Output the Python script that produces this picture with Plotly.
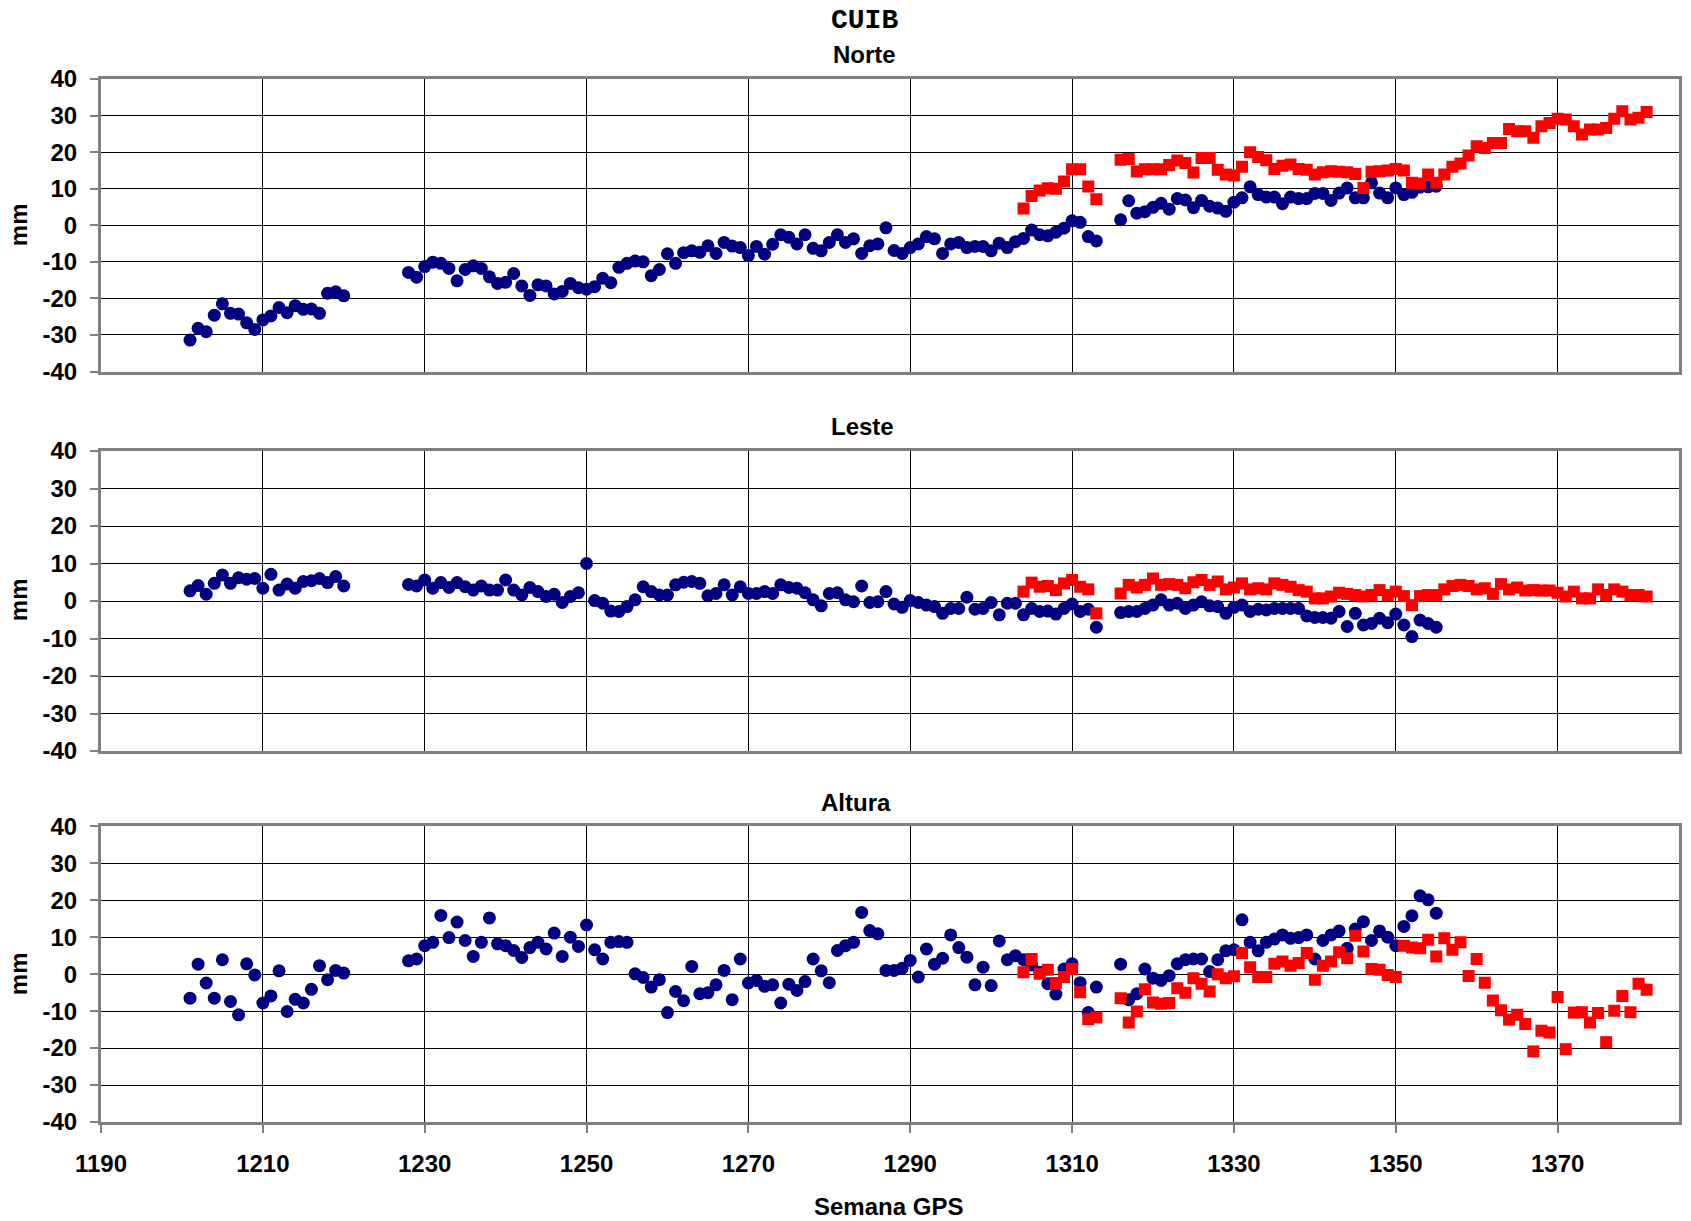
import plotly.graph_objects as go

# ---------------- data ----------------
weeks_blue = [1201, 1202, 1203, 1204, 1205, 1206, 1207, 1208, 1209, 1210,
              1211, 1212, 1213, 1214, 1215, 1216, 1217, 1218, 1219, 1220,
              1228, 1229, 1230, 1231, 1232, 1233, 1234, 1235, 1236, 1237,
              1238, 1239, 1240, 1241, 1242, 1243, 1244, 1245, 1246, 1247,
              1248, 1249, 1250, 1251, 1252, 1253, 1254, 1255, 1256, 1257,
              1258, 1259, 1260, 1261, 1262, 1263, 1264, 1265, 1266, 1267,
              1268, 1269, 1270, 1271, 1272, 1273, 1274, 1275, 1276, 1277,
              1278, 1279, 1280, 1281, 1282, 1283, 1284, 1285, 1286, 1287,
              1288, 1289, 1290, 1291, 1292, 1293, 1294, 1295, 1296, 1297,
              1298, 1299, 1300, 1301, 1302, 1303, 1304, 1305, 1306, 1307,
              1308, 1309, 1310, 1311, 1312, 1313,
              1316, 1317, 1318, 1319, 1320, 1321, 1322, 1323, 1324, 1325,
              1326, 1327, 1328, 1329, 1330, 1331, 1332, 1333, 1334, 1335,
              1336, 1337, 1338, 1339, 1340, 1341, 1342, 1343, 1344, 1345,
              1346, 1347, 1348, 1349, 1350, 1351, 1352, 1353, 1354, 1355]

weeks_red = [1304, 1305, 1306, 1307, 1308, 1309, 1310, 1311, 1312, 1313,
             1316, 1317, 1318, 1319, 1320, 1321, 1322, 1323, 1324, 1325,
             1326, 1327, 1328, 1329, 1330, 1331, 1332, 1333, 1334, 1335,
             1336, 1337, 1338, 1339, 1340, 1341, 1342, 1343, 1344, 1345,
             1346, 1347, 1348, 1349, 1350, 1351, 1352, 1353, 1354, 1355,
             1356, 1357, 1358, 1359, 1360, 1361, 1362, 1363, 1364, 1365,
             1366, 1367, 1368, 1369, 1370, 1371, 1372, 1373, 1374, 1375,
             1376, 1377, 1378, 1379, 1380, 1381]

norte_blue = [-31.4, -28.2, -29.1, -24.6, -21.5, -24.1, -24.3, -26.7, -28.5, -25.9,
              -24.8, -22.5, -23.9, -22.0, -23.0, -22.9, -24.1, -18.6, -18.2, -19.3,
              -12.9, -14.2, -11.3, -10.1, -10.4, -11.8, -15.2, -12.1, -11.1, -11.8,
              -14.1, -15.9, -15.6, -13.2, -16.6, -19.2, -16.3, -16.6, -18.8, -18.1,
              -15.9, -17.1, -17.5, -16.8, -14.5, -15.7, -11.5, -10.4, -9.8, -10.0,
              -13.8, -12.1, -7.8, -10.4, -7.5, -7.0, -7.4, -5.6, -7.7, -4.7,
              -5.7, -6.1, -8.3, -5.8, -7.9, -5.2, -2.6, -3.3, -5.1, -2.6,
              -6.3, -7.0, -4.7, -2.6, -4.7, -3.7, -7.7, -5.6, -5.1, -0.7,
              -6.9, -7.7, -6.1, -5.1, -3.1, -3.7, -7.7, -5.1, -4.7, -6.1,
              -5.8, -5.8, -7.0, -4.9, -6.1, -4.5, -3.6, -1.3, -2.6, -2.9,
              -1.9, -0.8, 1.2, 0.8, -3.1, -4.3,
              1.5, 6.7, 3.3, 3.7, 4.9, 6.0, 4.4, 7.3, 6.9, 4.8,
              6.8, 5.2, 4.7, 3.8, 6.3, 7.5, 10.5, 8.4, 7.7, 7.7,
              5.9, 7.7, 7.3, 7.3, 8.7, 8.7, 6.8, 8.8, 10.2, 7.5,
              7.5, 11.6, 8.8, 7.5, 10.2, 8.4, 9.0, 10.4, 10.5, 10.7]

norte_red = [4.6, 8.0, 9.5, 10.1, 10.0, 12.0, 15.3, 15.3, 10.6, 7.1,
             17.9, 18.1, 14.7, 15.3, 15.3, 15.3, 16.5, 17.7, 17.0, 14.4,
             18.4, 18.4, 15.2, 13.9, 13.6, 16.0, 20.0, 18.7, 17.8, 15.4,
             16.3, 16.6, 15.4, 15.2, 13.9, 14.5, 14.8, 14.6, 14.5, 14.0,
             10.2, 14.6, 14.8, 15.0, 15.4, 15.0, 11.6, 11.4, 13.9, 11.6,
             13.9, 16.0, 16.9, 19.1, 21.6, 21.1, 22.5, 22.5, 26.3, 25.7,
             25.7, 23.9, 27.1, 28.0, 29.1, 28.9, 27.1, 24.8, 26.2, 26.2,
             26.6, 29.1, 31.2, 28.9, 29.4, 31.0]

leste_blue = [2.7, 4.1, 1.8, 4.7, 6.9, 4.7, 6.2, 5.8, 6.0, 3.4,
              7.1, 2.9, 4.5, 3.4, 5.2, 5.4, 6.0, 4.9, 6.5, 4.0,
              4.4, 4.0, 5.6, 3.4, 4.9, 3.6, 4.9, 3.8, 2.9, 4.0,
              2.9, 2.9, 5.6, 2.9, 1.6, 3.6, 2.5, 1.2, 1.8, -0.4,
              1.2, 2.2, 10.0, 0.1, -0.6, -2.7, -2.8, -1.5, 0.3, 3.8,
              2.5, 1.6, 1.6, 4.3, 5.0, 5.2, 4.7, 1.4, 2.0, 4.3,
              1.6, 3.8, 2.0, 2.0, 2.5, 2.0, 4.3, 3.6, 3.4, 2.2,
              0.3, -1.3, 2.0, 2.2, 0.3, -0.2, 4.0, -0.4, -0.2, 2.5,
              -0.8, -1.7, 0.1, -0.4, -1.1, -1.5, -3.3, -2.0, -2.0, 1.0,
              -2.2, -2.0, -0.4, -3.7, -0.6, -0.6, -3.7, -2.0, -2.8, -2.7,
              -3.5, -2.0, -0.8, -2.8, -2.2, -7.0,
              -3.1, -2.8, -2.8, -2.0, -1.1, 0.3, -1.1, -0.6, -2.0, -1.1,
              -0.2, -1.3, -1.5, -3.3, -1.7, -1.1, -2.8, -2.2, -2.4, -2.0,
              -2.0, -2.0, -2.0, -4.0, -4.4, -4.4, -4.6, -2.8, -6.8, -3.3,
              -6.4, -6.0, -4.6, -5.8, -3.5, -6.4, -9.5, -5.1, -6.0, -7.0]

leste_red = [2.5, 4.9, 3.8, 4.0, 2.9, 4.7, 5.6, 3.8, 3.1, -3.3,
             2.0, 4.3, 3.6, 4.3, 6.0, 4.3, 4.5, 4.3, 3.4, 5.0,
             5.6, 4.3, 5.2, 3.1, 3.6, 4.7, 3.1, 3.4, 3.1, 4.7,
             4.3, 3.8, 2.9, 2.5, 0.7, 0.7, 1.2, 2.2, 1.9, 1.6,
             1.2, 1.6, 2.9, 1.6, 2.5, 1.3, -1.1, 1.3, 1.6, 1.6,
             3.1, 4.0, 4.3, 4.0, 3.1, 3.4, 1.9, 4.5, 3.1, 3.6,
             2.8, 2.9, 2.8, 2.8, 2.2, 1.2, 2.5, 0.7, 0.7, 3.1,
             1.6, 3.1, 2.5, 1.6, 1.6, 1.2]

altura_blue = [-6.5, 2.7, -2.4, -6.5, 3.9, -7.4, -11.0, 2.8, -0.2, -7.8,
               -5.9, 0.9, -10.1, -6.8, -7.8, -4.1, 2.3, -1.5, 1.0, 0.3,
               3.6, 4.1, 7.7, 8.6, 15.9, 9.9, 14.1, 9.1, 4.8, 8.6,
               15.2, 8.2, 7.7, 6.4, 4.5, 7.2, 8.6, 6.8, 11.1, 4.8,
               10.0, 7.5, 13.3, 6.6, 4.1, 8.6, 8.8, 8.6, 0.1, -0.9,
               -3.5, -1.5, -10.4, -4.7, -7.2, 2.1, -5.3, -5.0, -2.9, 1.0,
               -6.9, 4.1, -2.4, -1.7, -3.3, -2.9, -7.8, -2.7, -4.4, -2.0,
               4.1, 0.9, -2.3, 6.4, 7.7, 8.6, 16.7, 11.8, 10.9, 1.0,
               1.0, 1.6, 3.7, -0.8, 6.8, 2.7, 4.3, 10.6, 7.2, 4.6,
               -2.9, 1.9, -3.1, 9.0, 3.9, 5.0, 3.9, 2.5, 0.5, -2.6,
               -5.4, 1.4, 2.8, -2.3, -10.4, -3.5,
               2.7, -6.9, -5.3, 1.4, -1.1, -1.7, -0.4, 2.8, 3.9, 4.1,
               4.1, 0.7, 3.9, 6.3, 6.6, 14.7, 8.6, 6.3, 8.6, 9.5,
               10.6, 9.7, 9.9, 10.6, 4.1, 9.1, 10.6, 11.7, 7.0, 12.2,
               14.2, 9.1, 11.7, 10.0, 7.7, 12.9, 15.8, 21.2, 20.1, 16.5]

altura_red = [0.5, 4.1, 0.1, 1.2, -2.4, -0.8, 1.4, -4.9, -12.2, -11.7,
              -6.5, -13.1, -10.1, -4.1, -7.7, -8.0, -7.8, -3.8, -5.0, -1.1,
              -2.6, -4.7, 0.0, -1.1, -0.6, 5.7, 1.9, -0.8, -0.8, 2.8,
              3.4, 2.3, 3.0, 5.7, -1.5, 2.3, 3.4, 5.9, 4.3, 10.4,
              6.1, 1.4, 1.2, -0.2, -0.8, 7.7, 7.2, 7.0, 9.3, 4.8,
              9.7, 6.6, 8.6, -0.5, 4.1, -2.3, -7.1, -9.8, -12.3, -11.0,
              -13.5, -20.9, -15.3, -15.8, -6.2, -20.3, -10.4, -10.3, -13.1, -10.5,
              -18.4, -9.9, -5.9, -10.3, -2.6, -4.2]

y_ticks = [-40, -30, -20, -10, 0, 10, 20, 30, 40]
y_ticklabels = ["-40", "-30", "-20", "-10", "0", "10", "20", "30", "40"]

main_title = "CUIB"
panel_titles = ["Norte", "Leste", "Altura"]
y_title = "mm"
x_title = "Semana GPS"

# ---------------- layout geometry (pixels) ----------------
W, H = 1691, 1221
L, R, T, B = 101, 9, 79, 99
PW, PH = W - L - R, H - T - B


def px_x(px):
    return (px - L) / PW


def px_y(py):
    return 1 - (py - T) / PH


domains = [
    [px_y(371.5), px_y(79)],
    [px_y(751), px_y(451)],
    [px_y(1122), px_y(826.3)],
]

FONT = "Liberation Sans, Arial, sans-serif"
FS = 24
BLUE = "#000080"
RED = "#FF0000"

fig = go.Figure()
panels = [(norte_blue, norte_red), (leste_blue, leste_red), (altura_blue, altura_red)]
for i, (b, r) in enumerate(panels):
    suf = "" if i == 0 else str(i + 1)
    fig.add_trace(go.Scatter(x=weeks_blue, y=b, mode="markers",
                             marker=dict(symbol="circle", size=13, color=BLUE),
                             xaxis="x" + suf, yaxis="y" + suf, showlegend=False))
    fig.add_trace(go.Scatter(x=weeks_red, y=r, mode="markers",
                             marker=dict(symbol="square", size=12, color=RED),
                             xaxis="x" + suf, yaxis="y" + suf, showlegend=False))

axis_common = dict(showline=True, mirror=True, linecolor="#808080", linewidth=3,
                   showgrid=True, gridcolor="#000000", gridwidth=1, zeroline=False)

layout = dict(width=W, height=H, margin=dict(l=L, r=R, t=T, b=B),
              paper_bgcolor="white", plot_bgcolor="white", showlegend=False)

for i in range(3):
    suf = "" if i == 0 else str(i + 1)
    last = (i == 2)
    layout["xaxis" + suf] = dict(
        range=[1190, 1385], tick0=1190, dtick=20, domain=[0, 1],
        anchor="y" + suf,
        showticklabels=last,
        ticks="outside" if last else "", ticklen=8, tickwidth=2, tickcolor="#808080",
        ticklabelstandoff=10,
        tickfont=dict(family=FONT, size=FS, color="black", weight="bold"),
        **axis_common)
    layout["yaxis" + suf] = dict(
        range=[-40, 40], tickmode="array", tickvals=y_ticks, ticktext=y_ticklabels,
        domain=domains[i], anchor="x" + suf,
        ticks="outside", ticklen=8, tickwidth=2, tickcolor="#808080",
        ticklabelstandoff=8,
        tickfont=dict(family=FONT, size=FS, color="black", weight="bold"),
        **axis_common)

annotations = []
annotations.append(dict(text=main_title, x=px_x(866), y=px_y(20), xref="paper", yref="paper",
                        showarrow=False, xanchor="center", yanchor="middle",
                        font=dict(family="Liberation Mono, Courier New, monospace", size=28,
                                  color="black", weight="bold")))
for txt, (cx, cy) in zip(panel_titles, [(866, 54), (864, 427), (857, 802)]):
    annotations.append(dict(text=txt, x=px_x(cx), y=px_y(cy), xref="paper", yref="paper",
                            showarrow=False, xanchor="center", yanchor="middle",
                            font=dict(family=FONT, size=FS, color="black", weight="bold")))
for cy in [225, 600, 974]:
    annotations.append(dict(text=y_title, x=px_x(18), y=px_y(cy), xref="paper", yref="paper",
                            showarrow=False, xanchor="center", yanchor="middle", textangle=-90,
                            font=dict(family=FONT, size=FS, color="black", weight="bold")))
annotations.append(dict(text=x_title, x=px_x(890), y=px_y(1206), xref="paper", yref="paper",
                        showarrow=False, xanchor="center", yanchor="middle",
                        font=dict(family=FONT, size=FS, color="black", weight="bold")))
layout["annotations"] = annotations

fig.update_layout(**layout)
fig.write_html("out.html")
